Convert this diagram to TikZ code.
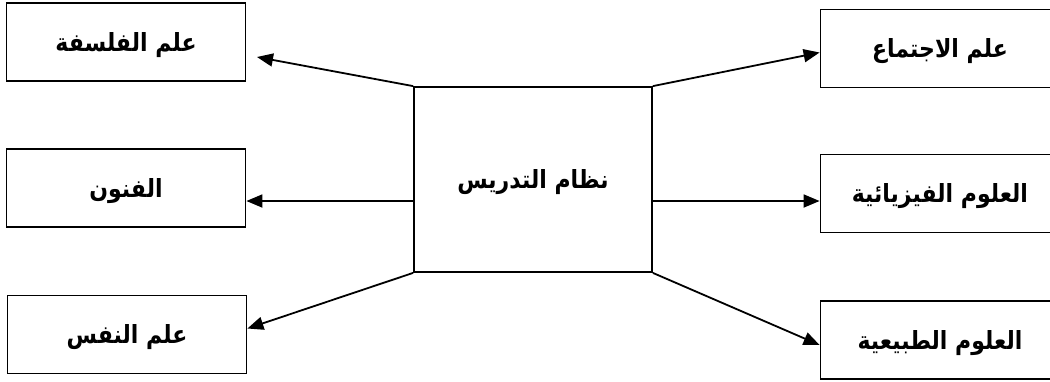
\documentclass[tikz,border=0pt]{standalone}
\usepackage{fontspec}
\newfontfamily\arabicfont[Script=Arabic,FakeStretch=0.88]{DejaVu Sans}
\TeXXeTstate=1
\usetikzlibrary{arrows.meta}
\tikzset{
  box/.style={draw,line width=1.8pt,minimum width=239pt,minimum height=78pt,inner sep=0pt,
    text height=22pt,text depth=4pt,
    font=\arabicfont\bfseries\fontsize{25}{29}\selectfont},
  link/.style={line width=1.8pt,-{Triangle[length=16pt,width=13pt]}}
}
\newcommand{\ar}[1]{\beginR #1\endR}

\begin{document}
\begin{tikzpicture}[x=1pt,y=1pt]
\useasboundingbox (0,0) rectangle (1050,-381);
\node[box,minimum width=238pt,minimum height=185pt] (sys) at (533,-179.5) {\ar{نظام التدريس}};
% left column
\node[box] (phil) at (126,-42) {\ar{علم الفلسفة}};
\node[box] (arts) at (126,-188) {\ar{الفنون}};
\node[box] (psy) at (127,-334.5) {\ar{علم النفس}};
% right column
\node[box] (soc) at (940,-48.5) {\ar{علم الاجتماع}};
\node[box] (phys) at (940,-193.5) {\ar{العلوم الفيزيائية}};
\node[box] (nat) at (940,-340) {\ar{العلوم الطبيعية}};
\coordinate (philtip) at (257,-57);
\draw[link] (sys.north west) -- (philtip);
\draw[link] ([yshift=-21.5pt]sys.west) -- ([yshift=-13pt]arts.east);
\draw[link] (sys.south west) -- ([yshift=6pt]psy.east);
\draw[link] (sys.north east) -- ([yshift=-4pt]soc.west);
\draw[link] ([yshift=-21.5pt]sys.east) -- ([yshift=-7.5pt]phys.west);
\draw[link] (sys.south east) -- ([yshift=-5pt]nat.west);
\end{tikzpicture}
\end{document}
